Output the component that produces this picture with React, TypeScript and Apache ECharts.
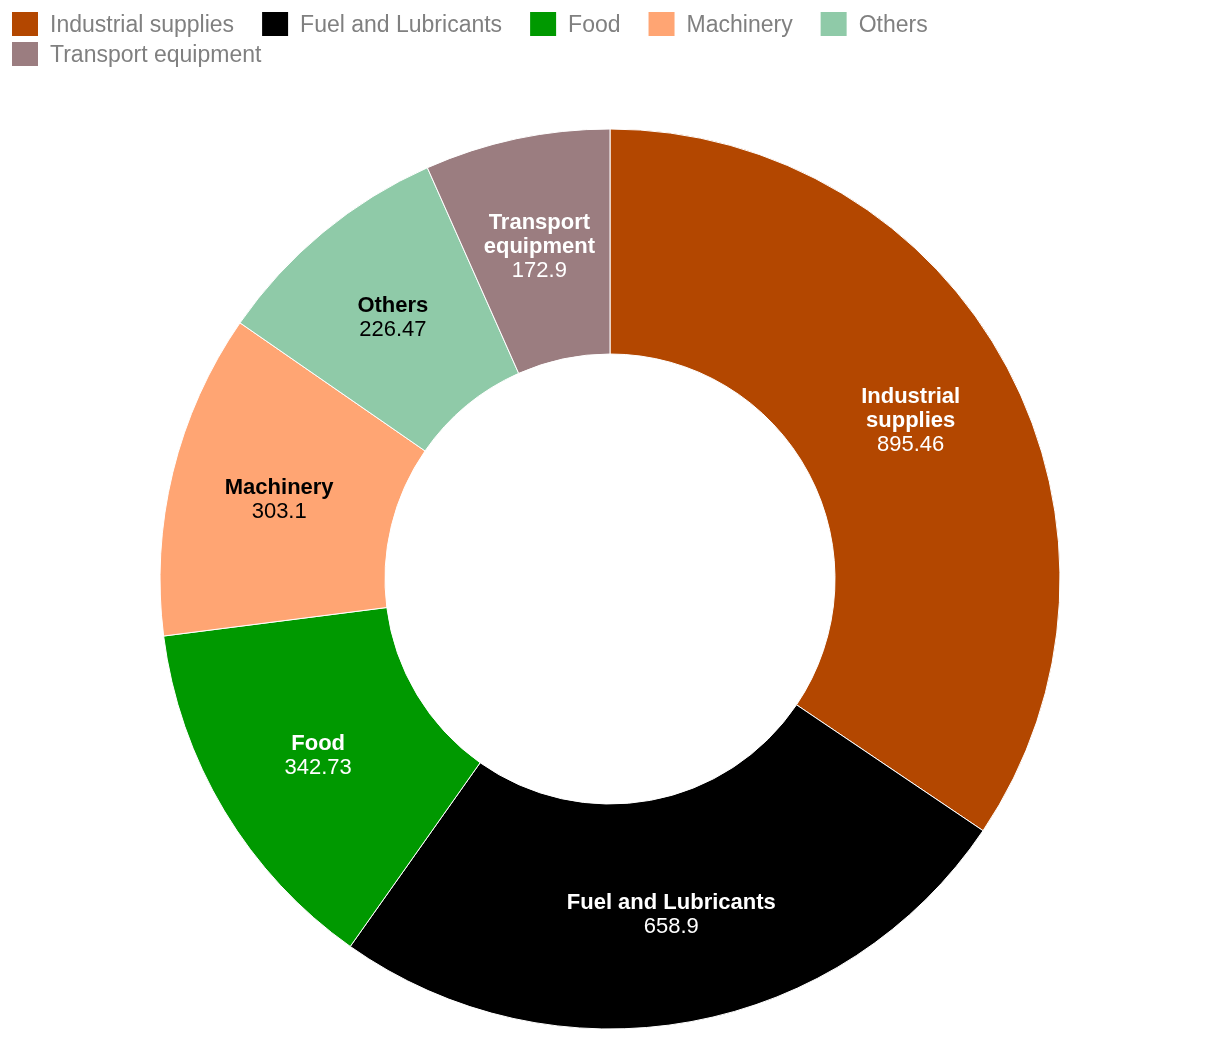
import React, { useEffect, useRef } from "react";
import * as echarts from "echarts";

const categories = ["Industrial supplies", "Fuel and Lubricants", "Food", "Machinery", "Others", "Transport equipment"];
const labelNames = ["Industrial\nsupplies", "Fuel and Lubricants", "Food", "Machinery", "Others", "Transport\nequipment"];
const values = [895.46, 658.9, 342.73, 303.1, 226.47, 172.9];
const colors = ["#b34700", "#000000", "#009900", "#ffa573", "#8fcaa8", "#9b7d80"];
const labelColors = ["#ffffff", "#ffffff", "#ffffff", "#000000", "#000000", "#ffffff"];
const legendRow1 = categories.slice(0, 5);
const legendRow2 = categories.slice(5);

const FONT = "'Liberation Sans', Arial, Helvetica, sans-serif";

const legendBase = {
  left: 10,
  padding: 0,
  itemWidth: 28,
  itemHeight: 26,
  itemGap: 26,
  icon: "rect",
  textStyle: { color: "#808080", fontSize: 23, fontFamily: FONT, padding: [0, 0, 6, 6] },
};

export default function App() {
  const ref = useRef<HTMLDivElement>(null);
  useEffect(() => {
    if (!ref.current) return;
    const chart = echarts.init(ref.current, undefined, { renderer: "svg" });
    chart.setOption({
      animation: false,
      color: colors,
      legend: [
        { ...legendBase, top: 10, data: legendRow1 },
        { ...legendBase, top: 40, data: legendRow2 },
      ],
      series: [
        {
          type: "pie",
          center: [610, 579],
          radius: [225, 450],
          startAngle: 90,
          clockwise: true,
          itemStyle: { borderColor: "#ffffff", borderWidth: 1 },
          label: {
            show: true,
            position: "inside",
            fontFamily: FONT,
          },
          labelLine: { show: false },
          emphasis: { disabled: true },
          data: categories.map((name, i) => ({
            name,
            value: values[i],
            label: {
              formatter: `{n|${labelNames[i]}}\n{v|{c}}`,
              rich: {
                n: { fontSize: 22, fontWeight: "bold", color: labelColors[i], lineHeight: 24, fontFamily: FONT, align: "center" },
                v: { fontSize: 22, color: labelColors[i], lineHeight: 24, fontFamily: FONT, align: "center" },
              },
            },
          })),
        },
      ],
    });
    return () => chart.dispose();
  }, []);
  return <div ref={ref} style={{ position: "fixed", left: 0, top: 0, width: 1220, height: 1040 }} />;
}
